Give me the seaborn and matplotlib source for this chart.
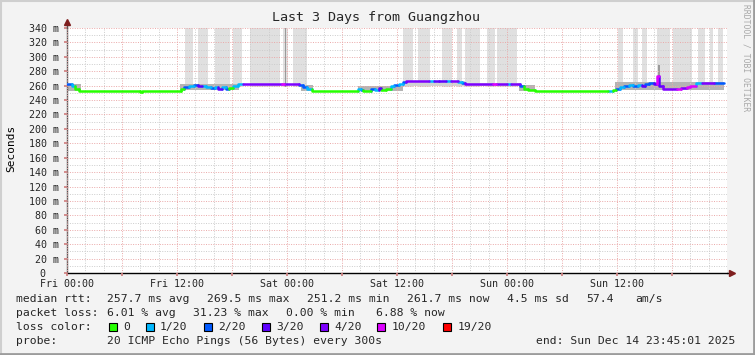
import numpy as np
import pandas as pd
import matplotlib
matplotlib.use("Agg")
import matplotlib.pyplot as plt
import seaborn as sns
from matplotlib.patches import Rectangle
from matplotlib.lines import Line2D
from matplotlib import transforms

# ---------------- data ----------------
loss_labels = ["0", "1/20", "2/20", "3/20", "4/20", "10/20", "19/20"]
loss_colors = ["#26ff00", "#00b8ff", "#0059ff", "#5e00ff", "#7e00ff", "#dd00ff", "#ff0000"]

# median rtt segments (hours since Fri 00:00, ms, loss class index)
seg_start = [0.0, 0.5, 0.9, 1.35, 8.0, 8.2,
             12.4, 12.8, 13.3, 13.8, 14.3, 14.7, 15.2, 15.7, 16.1, 16.5, 16.9, 17.3, 17.7, 18.1,
             18.7, 19.2, 23.4, 23.7, 25.3,
             25.7, 26.2, 26.7,
             31.7, 32.1, 32.3, 33.2, 33.6, 34.0, 34.3, 34.8, 35.3, 35.7, 36.2,
             36.6, 37.0, 39.5, 40.0, 40.6, 41.4, 41.9, 42.6, 43.1,
             43.4, 46.5, 46.8, 48.0, 48.4,
             49.4, 49.8, 50.3, 51.0, 59.0, 59.6,
             59.9, 60.3, 60.8, 61.3, 61.8, 62.3, 62.7, 63.1, 63.5, 64.0, 64.4, 64.6,
             65.0, 66.6, 67.0, 67.6, 68.0, 68.6, 69.3, 70.6]
seg_end = seg_start[1:] + [71.7]
seg_median = [262, 259, 256, 253, 251, 253,
              256, 258, 259, 261, 260, 259, 258, 257, 258, 256, 258, 256, 257, 259,
              262, 262, 262, 262, 261,
              258, 255, 253,
              255, 254, 253, 255, 254, 257, 254, 256, 259, 261, 262,
              265, 266, 266, 266, 267, 266, 266, 265, 263,
              262, 262, 262, 262, 262,
              259, 256, 254, 253, 253, 254,
              256, 258, 259, 261, 259, 261, 259, 262, 264, 262, 273, 260,
              255, 256, 257, 258, 260, 263, 263, 263]
seg_loss = [2, 1, 0, 0, 0, 0,
            0, 2, 1, 2, 3, 1, 1, 2, 1, 3, 1, 2, 0, 1,
            1, 4, 5, 4, 2,
            2, 1, 0,
            1, 2, 0, 2, 1, 3, 0, 0, 1, 2, 1,
            2, 4, 1, 3, 3, 1, 4, 1, 2,
            4, 5, 4, 1, 4,
            2, 0, 0, 0, 1, 0,
            2, 1, 2, 1, 2, 1, 3, 2, 2, 3, 5, 3,
            4, 5, 4, 5, 5, 1, 4, 2]

# smoke bands around the median (hours, ms)
band_start = [0.0, 12.3, 25.5, 31.7, 49.3, 59.8]
band_end = [1.5, 18.8, 26.8, 36.6, 51.0, 71.7]
band_lo = [253, 254, 253, 252, 252, 254]
band_hi = [262, 262, 261, 260, 261, 265]
light_band_start = [36.6, 43.4]
light_band_end = [43.4, 49.4]
light_band_lo = [260, 259]
light_band_hi = [266, 263]

# tall smoke stripes (pings far above the chart)
spike_start = [12.9, 14.3, 16.1, 18.1, 20.0, 23.6, 24.6,
               36.7, 38.3, 40.9, 42.5, 43.4, 45.8, 46.9,
               60.1, 61.7, 62.7, 64.4, 66.1, 68.8, 70.1, 71.0]
spike_end = [13.7, 15.4, 17.8, 19.1, 23.2, 24.1, 26.2,
             37.7, 39.6, 42.0, 43.1, 45.1, 46.7, 49.1,
             60.7, 62.3, 63.3, 65.8, 68.2, 69.6, 70.5, 71.6]
dark_spike_start = [23.75, 64.45]
dark_spike_end = [23.9, 64.65]
dark_spike_top = [345, 289]

xtick_pos = [0, 12, 24, 36, 48, 60]
xtick_labels = ["Fri 00:00", "Fri 12:00", "Sat 00:00", "Sat 12:00", "Sun 00:00", "Sun 12:00"]
ytick_vals = list(range(0, 341, 20))

# ---------------- figure ----------------
sns.set_theme(style="white")
plt.rcParams["font.family"] = ["DejaVu Sans Mono", "DejaVu Sans"]

W, H = 755, 355
fig = plt.figure(figsize=(W / 100, H / 100), dpi=100, facecolor="#f3f3f3")
ax = fig.add_axes([67 / W, 82 / H, 660 / W, 245 / H])
ax.set_facecolor("white")

# smoke
for s, e in zip(spike_start, spike_end):
    ax.fill_between([s, e], [258, 258], [350, 350], color="#e0e0e0", lw=0, zorder=1)
for s, e, t in zip(dark_spike_start, dark_spike_end, dark_spike_top):
    ax.fill_between([s, e], [258, 258], [t, t], color="#9a9a9a", lw=0, zorder=1.2)
for s, e, lo, hi in zip(light_band_start, light_band_end, light_band_lo, light_band_hi):
    ax.fill_between([s, e], [lo, lo], [hi, hi], color="#d2d2d2", lw=0, zorder=1.1)
for s, e, lo, hi in zip(band_start, band_end, band_lo, band_hi):
    ax.fill_between([s, e], [lo, lo], [hi, hi], color="#b4b4b4", lw=0, zorder=1.1)

# median line, coloured by packet loss
rows = []
prev = seg_median[0]
for i, (s, e, m, l) in enumerate(zip(seg_start, seg_end, seg_median, seg_loss)):
    rows.append({"t": s, "ms": prev, "seg": i, "loss": loss_labels[l]})
    rows.append({"t": s, "ms": m, "seg": i, "loss": loss_labels[l]})
    rows.append({"t": e, "ms": m, "seg": i, "loss": loss_labels[l]})
    prev = m
df = pd.DataFrame(rows)
sns.lineplot(data=df, x="t", y="ms", hue="loss", units="seg", estimator=None, sort=False,
             palette=dict(zip(loss_labels, loss_colors)), linewidth=1.8,
             legend=False, ax=ax, zorder=3)

# axes
ax.set_xlim(0, 72)
ax.set_ylim(0, 340)
ax.set_xticks(list(range(0, 72, 6)))
ax.set_xticklabels([xtick_labels[xtick_pos.index(v)] if v in xtick_pos else "" for v in range(0, 72, 6)])
ax.set_xticks(list(range(0, 72, 2)), minor=True)
ax.set_yticks(ytick_vals)
ax.set_yticklabels([("%d m" % v) if v else "0" for v in ytick_vals])
ax.set_yticks(list(range(0, 341, 10)), minor=True)
ax.set_axisbelow(False)
ax.grid(which="minor", color="#cccccc", linestyle=(0, (1, 1.5)), linewidth=0.7)
ax.grid(which="major", color="#eaa8a8", linestyle=(0, (1, 1.5)), linewidth=0.7)
ax.set_xlabel("")
ax.set_ylabel("Seconds", fontsize=8, color="#000000")
ax.yaxis.set_label_coords((16 - 67) / 660, (273 - 148) / 245)
ax.tick_params(axis="y", which="major", labelsize=7.2, length=2, color="#d08080", pad=4, left=True)
ax.tick_params(axis="y", which="minor", length=0)
ax.tick_params(axis="x", which="major", labelsize=7.2, length=2, color="#d08080", pad=2, bottom=True)
ax.tick_params(axis="x", which="minor", length=0)
for lab in ax.get_yticklabels():
    if lab.get_text() == "0":
        lab.set_transform(lab.get_transform() + transforms.ScaledTranslation(-13 / 100, 0, fig.dpi_scale_trans))

for sp in ["top", "right"]:
    ax.spines[sp].set_visible(False)
ax.spines["left"].set_color("#555555")
ax.spines["left"].set_linewidth(1.0)
ax.spines["bottom"].set_color("#000000")
ax.spines["bottom"].set_linewidth(1.0)
# axis arrows
ax.plot([0, 0], [340, 348], color="#555555", lw=1.0, clip_on=False, zorder=4)
ax.plot([0], [349], marker="^", color="#7f1f1f", markersize=4, clip_on=False, zorder=4)
ax.plot([72, 72.4], [0, 0], color="#000000", lw=1.0, clip_on=False, zorder=4)
ax.plot([72.5], [0], marker=">", color="#7f1f1f", markersize=4, clip_on=False, zorder=4)

# title and side text
fig.text(376 / W, 1 - 18 / H, "Last 3 Days from Guangzhou", ha="center", va="center", fontsize=9.6)
fig.text(746 / W, 1 - 58 / H, "RRDTOOL / TOBI OETIKER", ha="center", va="center", fontsize=5.8,
         rotation=270, color="#a8a8a8")

# legend rows
fs = 8.2
def t(x, y, s):
    fig.text(x / W, 1 - y / H, s, ha="left", va="center", fontsize=fs)

y1, y2, y3, y4 = 299, 313, 327, 341
t(16, y1, "median rtt:")
for x, s in [(107, "257.7 ms avg"), (207, "269.5 ms max"), (307, "251.2 ms min"),
             (407, "261.7 ms now"), (507, "4.5 ms sd"), (586, "57.4"), (635, "am/s")]:
    t(x, y1, s)
t(16, y2, "packet loss:")
for x, s in [(107, "6.01 % avg"), (193, "31.23 % max"), (286, "0.00 % min"), (376, "6.88 % now")]:
    t(x, y2, s)
t(16, y3, "loss color:")
box_x = [109, 146, 204, 262, 320, 377, 443]
txt_x = [123, 160, 218, 276, 334, 392, 458]
for bx, tx, lab, col in zip(box_x, txt_x, loss_labels, loss_colors):
    fig.patches.append(Rectangle((bx / W, 1 - (y3 + 4) / H), 8 / W, 8 / H, transform=fig.transFigure,
                                 facecolor=col, edgecolor="black", linewidth=0.8))
    t(tx, y3, lab)
t(16, y4, "probe:")
t(107, y4, "20 ICMP Echo Pings (56 Bytes) every 300s")
t(536, y4, "end: Sun Dec 14 23:45:01 2025")

# 3D frame
fig.add_artist(Line2D([0, 1], [1 - 1 / H, 1 - 1 / H], transform=fig.transFigure, color="#cfcfcf", lw=1.5))
fig.add_artist(Line2D([1 / W, 1 / W], [0, 1], transform=fig.transFigure, color="#cfcfcf", lw=1.5))
fig.add_artist(Line2D([0, 1], [1.5 / H, 1.5 / H], transform=fig.transFigure, color="#9c9c9c", lw=2))
fig.add_artist(Line2D([1 - 1.5 / W, 1 - 1.5 / W], [0, 1], transform=fig.transFigure, color="#9c9c9c", lw=2))

fig.savefig("out.png", dpi=100, facecolor=fig.get_facecolor())
